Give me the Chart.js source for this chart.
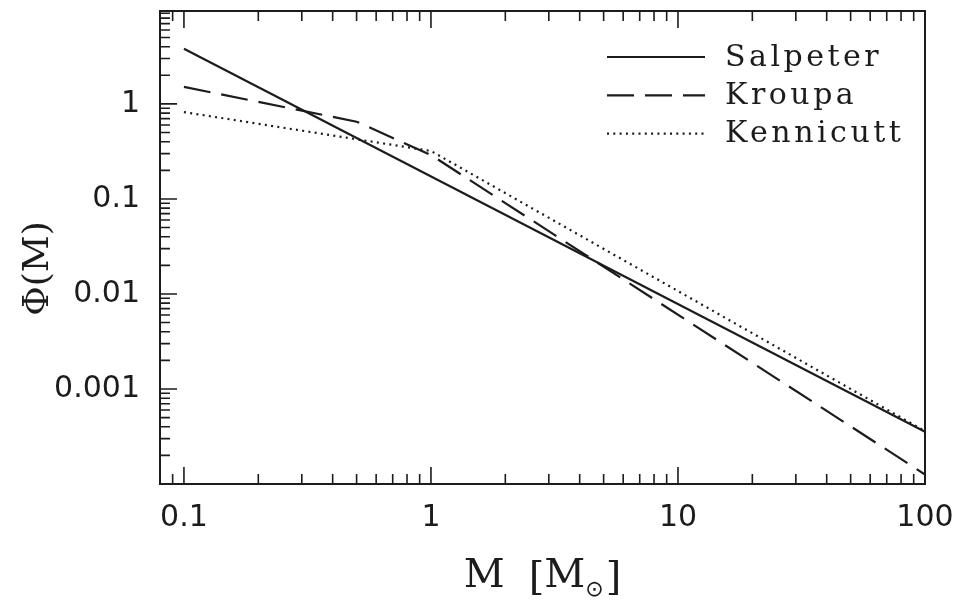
<!DOCTYPE html>
<html>
<head>
<meta charset="utf-8">
<script src="https://cdn.jsdelivr.net/npm/chart.js@4/dist/chart.umd.min.js"></script>
<style>
  html, body { margin: 0; padding: 0; background: #fff; }
  #wrap { width: 967px; height: 602px; }
</style>
</head>
<body>
<div id="wrap"><canvas id="imf"></canvas></div>
<script>
// IMF curves on log-log axes; each piece is a power law, so break points are enough
const massSalpeter = [0.1, 100];
const phiSalpeter = [3.8, 3.55e-4];
const massKroupa = [0.1, 0.5, 1, 100];
const phiKroupa = [1.51, 0.65, 0.29, 1.26e-4];
const massKennicutt = [0.1, 1, 100];
const phiKennicutt = [0.82, 0.32, 3.6e-4];

const seriesNames = ['Salpeter', 'Kroupa', 'Kennicutt'];
const xDecades = [0.1, 1, 10, 100];
const xTickLabels = ['0.1', '1', '10', '100'];
const yDecades = [0.0001, 0.001, 0.01, 0.1, 1];
const yTickLabels = ['', '0.001', '0.01', '0.1', '1'];
const xRange = [0.08, 100];
const yRange = [1e-4, 9.5];

const ink = '#1c1c1c';

function pts(xs, ys) {
  return xs.map((x, i) => ({ x: x, y: ys[i] }));
}

// 1..9 x 10^n inside the range
function logTicks(min, max) {
  let out = [];
  for (let e = Math.floor(Math.log10(min)); e <= Math.ceil(Math.log10(max)); e++) {
    for (let m = 1; m <= 9; m++) {
      let v = m * Math.pow(10, e);
      if (v >= min * 0.999 && v <= max * 1.001) out.push({ value: v });
    }
  }
  return out;
}

function decadeIndex(v, decades) {
  return decades.findIndex(d => Math.abs(v / d - 1) < 1e-6);
}

// label overflow is covered by layout.padding, keep the plot box fixed
function noScalePadding(s) {
  s.paddingTop = 0; s.paddingBottom = 0;
  s.paddingLeft = 0; s.paddingRight = 0;
}

// inward tick marks, box, legend and axis titles
const frame = {
  id: 'frame',
  afterDatasetsDraw(chart) {
    const { ctx, chartArea: a, scales } = chart;
    const sx = scales.x, sy = scales.y;
    ctx.save();
    ctx.strokeStyle = ink;
    ctx.lineWidth = 1.6;
    ctx.beginPath();
    sx.ticks.forEach(t => {
      const px = sx.getPixelForValue(t.value);
      const len = decadeIndex(t.value, xDecades) >= 0 ? 17 : 10;
      ctx.moveTo(px, a.bottom); ctx.lineTo(px, a.bottom - len);
      ctx.moveTo(px, a.top); ctx.lineTo(px, a.top + len);
    });
    sy.ticks.forEach(t => {
      const py = sy.getPixelForValue(t.value);
      const len = decadeIndex(t.value, yDecades) >= 0 ? 17 : 10;
      ctx.moveTo(a.left, py); ctx.lineTo(a.left + len, py);
    });
    ctx.stroke();
    ctx.lineWidth = 2;
    ctx.strokeRect(a.left, a.top, a.width, a.height);

    // legend
    ctx.font = '30px "DejaVu Serif"';
    ctx.fillStyle = ink;
    ctx.textBaseline = 'alphabetic';
    ctx.letterSpacing = '3.5px';
    chart.data.datasets.forEach((ds, i) => {
      const ly = a.top + 46 + i * 38.3;
      ctx.save();
      ctx.lineWidth = ds.borderWidth;
      ctx.setLineDash(ds.borderDash || []);
      ctx.beginPath();
      ctx.moveTo(a.right - 318, ly);
      ctx.lineTo(a.right - 220, ly);
      ctx.stroke();
      ctx.restore();
      ctx.fillText(ds.label, a.right - 200, ly + 8.5);
    });
    ctx.letterSpacing = '0px';

    // x title: M [M_sun]
    const cx = (a.left + a.right) / 2;
    const by = a.bottom + 103;
    const big = '40px "DejaVu Serif"', small = '22px "DejaVu Sans"';
    ctx.font = big;
    const wM = ctx.measureText('M').width;
    const wB1 = ctx.measureText('[').width;
    const wB2 = ctx.measureText(']').width;
    ctx.font = small;
    const wSun = ctx.measureText('\u2299').width;
    const gap = 24;
    const total = wM + gap + wB1 + wM + wSun + 2 + wB2;
    let x0 = cx - total / 2;
    ctx.textAlign = 'left';
    ctx.font = big;
    ctx.fillText('M', x0, by); x0 += wM + gap;
    ctx.fillText('[', x0, by + 2); x0 += wB1;
    ctx.fillText('M', x0, by); x0 += wM;
    ctx.font = small;
    ctx.fillText('\u2299', x0, by + 9); x0 += wSun + 2;
    ctx.font = big;
    ctx.fillText(']', x0, by + 2);

    // y title
    ctx.translate(a.left - 121, (a.top + a.bottom) / 2 + 21);
    ctx.rotate(-Math.PI / 2);
    ctx.font = '36px "DejaVu Serif"';
    ctx.textAlign = 'center';
    ctx.textBaseline = 'middle';
    ctx.fillText('\u03A6(M)', 0, 0);
    ctx.restore();
  }
};

new Chart(document.getElementById('imf'), {
  type: 'line',
  data: {
    datasets: [
      { label: seriesNames[0], data: pts(massSalpeter, phiSalpeter),
        borderColor: ink, borderWidth: 2.2, borderDash: [] },
      { label: seriesNames[1], data: pts(massKroupa, phiKroupa),
        borderColor: ink, borderWidth: 2.2, borderDash: [27, 11] },
      { label: seriesNames[2], data: pts(massKennicutt, phiKennicutt),
        borderColor: ink, borderWidth: 2.2, borderDash: [2, 4.3] }
    ]
  },
  options: {
    responsive: true,
    maintainAspectRatio: false,
    animation: false,
    events: [],
    layout: { padding: { top: 11, right: 42, bottom: 0, left: 0 } },
    elements: { point: { radius: 0 }, line: { tension: 0, fill: false } },
    plugins: { legend: { display: false }, tooltip: { enabled: false } },
    scales: {
      x: {
        type: 'logarithmic',
        min: xRange[0], max: xRange[1],
        border: { display: false },
        grid: { display: false, drawTicks: false },
        afterBuildTicks: s => { s.ticks = logTicks(xRange[0], xRange[1]); },
        afterFit: s => { s.height = 118; noScalePadding(s); },
        ticks: {
          autoSkip: false, maxRotation: 0, padding: 16, color: ink,
          font: { family: 'DejaVu Sans', size: 30 },
          callback: v => { const i = decadeIndex(v, xDecades); return i >= 0 ? xTickLabels[i] : ''; }
        }
      },
      y: {
        type: 'logarithmic',
        min: yRange[0], max: yRange[1],
        border: { display: false },
        grid: { display: false, drawTicks: false },
        afterBuildTicks: s => { s.ticks = logTicks(yRange[0], yRange[1]); },
        afterFit: s => { s.width = 160; noScalePadding(s); },
        ticks: {
          autoSkip: false, padding: 20, color: ink,
          font: { family: 'DejaVu Sans', size: 30 },
          callback: v => { const i = decadeIndex(v, yDecades); return i >= 0 ? yTickLabels[i] : ''; }
        }
      }
    }
  },
  plugins: [frame]
});
</script>
</body>
</html>
